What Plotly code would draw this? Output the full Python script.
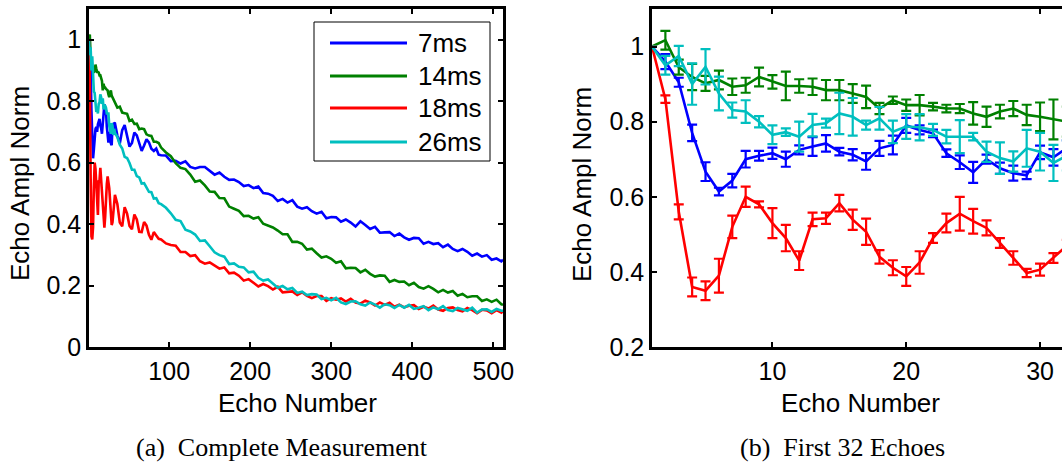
import plotly.graph_objects as go

SANS = "Liberation Sans, Arial, Helvetica, sans-serif"
SERIF = "Liberation Serif, Times New Roman, serif"

labels = ["7ms", "14ms", "18ms", "26ms"]
colors = ["#0000ff", "#008000", "#ff0000", "#00bfbf"]

# ---- first 32 echoes: mean amplitude and spread ----
echo_first = list(range(1, 33))

blue_mean = [1.00, 0.96, 0.905, 0.77, 0.667, 0.614, 0.643, 0.70, 0.709, 0.716,
             0.70, 0.725, 0.734, 0.742, 0.72, 0.712, 0.694, 0.729, 0.738, 0.79,
             0.778, 0.769, 0.716, 0.692, 0.665, 0.70, 0.676, 0.663, 0.657, 0.718,
             0.705, 0.73]
blue_err = [0, 0.02, 0.012, 0.022, 0.025, 0.01, 0.018, 0.022, 0.013, 0.015,
            0.02, 0.012, 0.025, 0.022, 0.01, 0.015, 0.022, 0.02, 0.025, 0.02,
            0.012, 0.01, 0.01, 0.018, 0.028, 0.012, 0.015, 0.02, 0.01, 0.018,
            0.022, 0.02]

green_mean = [1.00, 1.017, 0.945, 0.919, 0.902, 0.911, 0.893, 0.897, 0.919, 0.906,
              0.895, 0.895, 0.893, 0.884, 0.884, 0.875, 0.866, 0.835, 0.857, 0.844,
              0.844, 0.84, 0.835, 0.835, 0.822, 0.813, 0.827, 0.835, 0.818, 0.813,
              0.806, 0.80]
green_err = [0, 0.025, 0.02, 0.035, 0.02, 0.025, 0.022, 0.02, 0.025, 0.018,
             0.038, 0.018, 0.022, 0.027, 0.027, 0.025, 0.03, 0.015, 0.01, 0.015,
             0.027, 0.01, 0.01, 0.012, 0.03, 0.027, 0.018, 0.02, 0.027, 0.038,
             0.053, 0.04]

red_mean = [1.00, 0.86, 0.56, 0.36, 0.35, 0.39, 0.52, 0.60, 0.58, 0.53,
            0.49, 0.43, 0.54, 0.543, 0.583, 0.539, 0.507, 0.44, 0.411, 0.388,
            0.425, 0.49, 0.53, 0.555, 0.535, 0.517, 0.477, 0.437, 0.397, 0.406,
            0.437, 0.47]
red_err = [0, 0.01, 0.02, 0.025, 0.025, 0.045, 0.03, 0.027, 0.008, 0.04,
           0.035, 0.025, 0.018, 0.015, 0.022, 0.027, 0.035, 0.018, 0.02, 0.025,
           0.03, 0.013, 0.025, 0.045, 0.033, 0.02, 0.013, 0.018, 0.011, 0.016,
           0.013, 0.015]

cyan_mean = [1.00, 0.95, 0.975, 0.90, 0.946, 0.875, 0.831, 0.827, 0.80, 0.765,
             0.772, 0.76, 0.791, 0.796, 0.822, 0.813, 0.791, 0.809, 0.773, 0.787,
             0.785, 0.778, 0.76, 0.76, 0.76, 0.72, 0.703, 0.694, 0.729, 0.72,
             0.69, 0.71]
cyan_err = [0, 0.025, 0.027, 0.055, 0.047, 0.045, 0.02, 0.03, 0.015, 0.025,
            0.01, 0.04, 0.03, 0.012, 0.055, 0.05, 0.012, 0.03, 0.03, 0.033,
            0.035, 0.016, 0.018, 0.044, 0.01, 0.027, 0.042, 0.027, 0.049, 0.05,
            0.048, 0.04]

# ---- later echoes of the complete train ----
echo_mid = list(range(33, 91, 3))
echo_tail = list(range(96, 511, 6)) + [512]

blue_mid = [0.728, 0.688, 0.662, 0.706, 0.722, 0.684, 0.652, 0.664, 0.698, 0.689,
            0.660, 0.638, 0.656, 0.676, 0.666, 0.645, 0.638, 0.646, 0.626, 0.624]
blue_tail = [0.623, 0.605, 0.606, 0.597, 0.604, 0.586, 0.581, 0.586, 0.586, 0.574,
             0.561, 0.568, 0.554, 0.544, 0.545, 0.537, 0.524, 0.527, 0.517, 0.522,
             0.501, 0.499, 0.492, 0.475, 0.482, 0.470, 0.478, 0.457, 0.450, 0.455,
             0.442, 0.434, 0.440, 0.419, 0.423, 0.422, 0.408, 0.415, 0.405, 0.392,
             0.409, 0.397, 0.384, 0.391, 0.372, 0.373, 0.374, 0.361, 0.369, 0.357,
             0.349, 0.355, 0.354, 0.336, 0.342, 0.335, 0.338, 0.325, 0.333, 0.319,
             0.312, 0.319, 0.310, 0.297, 0.304, 0.294, 0.299, 0.284, 0.288, 0.279,
             0.284]

green_mid = [0.799, 0.779, 0.782, 0.763, 0.761, 0.759, 0.736, 0.740, 0.726, 0.727,
             0.709, 0.711, 0.709, 0.692, 0.688, 0.687, 0.668, 0.668, 0.664, 0.649]
green_tail = [0.633, 0.621, 0.598, 0.583, 0.579, 0.561, 0.538, 0.542, 0.526, 0.506,
              0.505, 0.485, 0.484, 0.457, 0.450, 0.443, 0.426, 0.427, 0.418, 0.422,
              0.401, 0.394, 0.389, 0.379, 0.367, 0.367, 0.342, 0.342, 0.336, 0.317,
              0.320, 0.305, 0.291, 0.295, 0.287, 0.274, 0.279, 0.256, 0.258, 0.257,
              0.243, 0.251, 0.238, 0.229, 0.233, 0.232, 0.212, 0.218, 0.212, 0.213,
              0.201, 0.209, 0.195, 0.190, 0.198, 0.189, 0.178, 0.186, 0.177, 0.182,
              0.167, 0.173, 0.162, 0.165, 0.165, 0.150, 0.155, 0.147, 0.154, 0.139,
              0.137]

red_mid = [0.495, 0.465, 0.405, 0.393, 0.455, 0.434, 0.394, 0.383, 0.431, 0.415,
           0.375, 0.374, 0.407, 0.395, 0.365, 0.349, 0.374, 0.363, 0.352, 0.350]
red_tail = [0.337, 0.332, 0.330, 0.309, 0.309, 0.296, 0.299, 0.279, 0.271, 0.275,
            0.265, 0.255, 0.259, 0.240, 0.242, 0.232, 0.216, 0.221, 0.209, 0.197,
            0.205, 0.198, 0.187, 0.196, 0.178, 0.180, 0.181, 0.169, 0.178, 0.166,
            0.159, 0.166, 0.166, 0.150, 0.159, 0.154, 0.158, 0.148, 0.157, 0.145,
            0.141, 0.151, 0.145, 0.135, 0.145, 0.137, 0.144, 0.131, 0.138, 0.129,
            0.134, 0.136, 0.124, 0.131, 0.125, 0.135, 0.122, 0.118, 0.127, 0.129,
            0.120, 0.116, 0.127, 0.120, 0.110, 0.121, 0.119, 0.110, 0.120, 0.112,
            0.118]

cyan_mid = [0.697, 0.683, 0.658, 0.646, 0.619, 0.615, 0.599, 0.577, 0.577, 0.556,
            0.552, 0.532, 0.533, 0.518, 0.505, 0.504, 0.483, 0.484, 0.468, 0.465]
cyan_tail = [0.453, 0.435, 0.414, 0.410, 0.382, 0.376, 0.366, 0.345, 0.347, 0.328,
             0.308, 0.299, 0.294, 0.270, 0.272, 0.261, 0.259, 0.243, 0.245, 0.225,
             0.216, 0.220, 0.208, 0.193, 0.199, 0.188, 0.192, 0.176, 0.180, 0.169,
             0.172, 0.171, 0.156, 0.160, 0.152, 0.160, 0.145, 0.140, 0.148, 0.149,
             0.139, 0.135, 0.145, 0.138, 0.128, 0.139, 0.136, 0.127, 0.137, 0.128,
             0.137, 0.124, 0.128, 0.133, 0.120, 0.129, 0.123, 0.133, 0.120, 0.117,
             0.127, 0.123, 0.118, 0.128, 0.112, 0.122, 0.123, 0.114, 0.124, 0.118,
             0.118]

x_ticks_full = [100, 200, 300, 400, 500]
x_ticks_first = [10, 20, 30]
y_ticks_full = [0, 0.2, 0.4, 0.6, 0.8, 1]
y_ticks_first = [0.2, 0.4, 0.6, 0.8, 1]

echo_full = echo_first + echo_mid + echo_tail
series = [
    (blue_mean, blue_err, blue_mid, blue_tail),
    (green_mean, green_err, green_mid, green_tail),
    (red_mean, red_err, red_mid, red_tail),
    (cyan_mean, cyan_err, cyan_mid, cyan_tail),
]

fig = go.Figure()

# (a) complete echo train
for (mean, err, mid, tail), name, col in zip(series, labels, colors):
    full = mean + mid + tail
    assert len(full) == len(echo_full)
    fig.add_trace(go.Scatter(
        x=echo_full, y=full, mode="lines", name=name, showlegend=False,
        line=dict(color=col, width=2.6),
        xaxis="x", yaxis="y",
    ))

# (b) first 32 echoes with error bars
for (mean, err, mid, tail), name, col in zip(series, labels, colors):
    fig.add_trace(go.Scatter(
        x=echo_first, y=mean, mode="lines", name=name, showlegend=False,
        line=dict(color=col, width=2.6),
        error_y=dict(type="data", array=err, visible=True, color=col,
                     thickness=2.2, width=5),
        xaxis="x2", yaxis="y2",
    ))

W, H = 1062, 465


def px_x(p):
    return p / W


def px_y(p):
    return (H - p) / H


ydom = [px_y(347), px_y(9)]

axis_style = dict(
    showline=True, linecolor="black", linewidth=2.5,
    ticks="inside", ticklen=5, tickwidth=2, tickcolor="black",
    showgrid=False, zeroline=False, automargin=False,
    tickfont=dict(family=SANS, size=25, color="black"),
)

fig.update_layout(
    width=W, height=H,
    margin=dict(l=0, r=0, t=0, b=0, pad=0, autoexpand=False),
    paper_bgcolor="white", plot_bgcolor="white",
    showlegend=False,
    xaxis=dict(domain=[px_x(89), px_x(503)], range=[1, 512],
               tickvals=x_ticks_full, mirror="ticks", anchor="y", **axis_style),
    yaxis=dict(domain=ydom, range=[0, 1.1], tickvals=y_ticks_full,
               ticktext=[f"{v:g}" for v in y_ticks_full],
               mirror="ticks", anchor="x", **axis_style),
    xaxis2=dict(domain=[px_x(652), 1.0], range=[1, 31.64],
                tickvals=x_ticks_first, mirror="ticks", anchor="y2", **axis_style),
    yaxis2=dict(domain=ydom, range=[0.2, 1.1], tickvals=y_ticks_first,
                ticktext=[f"{v:g}" for v in y_ticks_first],
                anchor="x2", **axis_style),
)

# legend box for panel (a)
fig.add_shape(type="rect", xref="paper", yref="paper",
              x0=px_x(314), x1=px_x(490), y0=px_y(161), y1=px_y(22),
              line=dict(color="black", width=1), fillcolor="white", layer="above")
legend_rows = [43, 76, 108, 142]
for name, col, row in zip(labels, colors, legend_rows):
    fig.add_shape(type="line", xref="paper", yref="paper",
                  x0=px_x(330), x1=px_x(407), y0=px_y(row), y1=px_y(row),
                  line=dict(color=col, width=3), layer="above")
    fig.add_annotation(text=name, x=px_x(416), y=px_y(row), xref="paper", yref="paper",
                       xanchor="left", yanchor="middle", showarrow=False,
                       font=dict(family=SANS, size=26, color="black"))

title_font = dict(family=SANS, size=26, color="black")
cap_font = dict(family=SERIF, size=26, color="black")
notes = [
    ("Echo Ampl Norm", 20, 184, -90, title_font),
    ("Echo Ampl Norm", 582, 184, -90, title_font),
    ("Echo Number", 297, 403, 0, title_font),
    ("Echo Number", 860, 403, 0, title_font),
    ("(a)\u00a0 Complete Measurement", 282, 447, 0, cap_font),
    ("(b)\u00a0 First 32 Echoes", 842, 447, 0, cap_font),
]
for text, x, y, ang, f in notes:
    fig.add_annotation(text=text, x=px_x(x), y=px_y(y), xref="paper", yref="paper",
                       xanchor="center", yanchor="middle", textangle=ang,
                       showarrow=False, font=f)

fig.write_html("out.html")
